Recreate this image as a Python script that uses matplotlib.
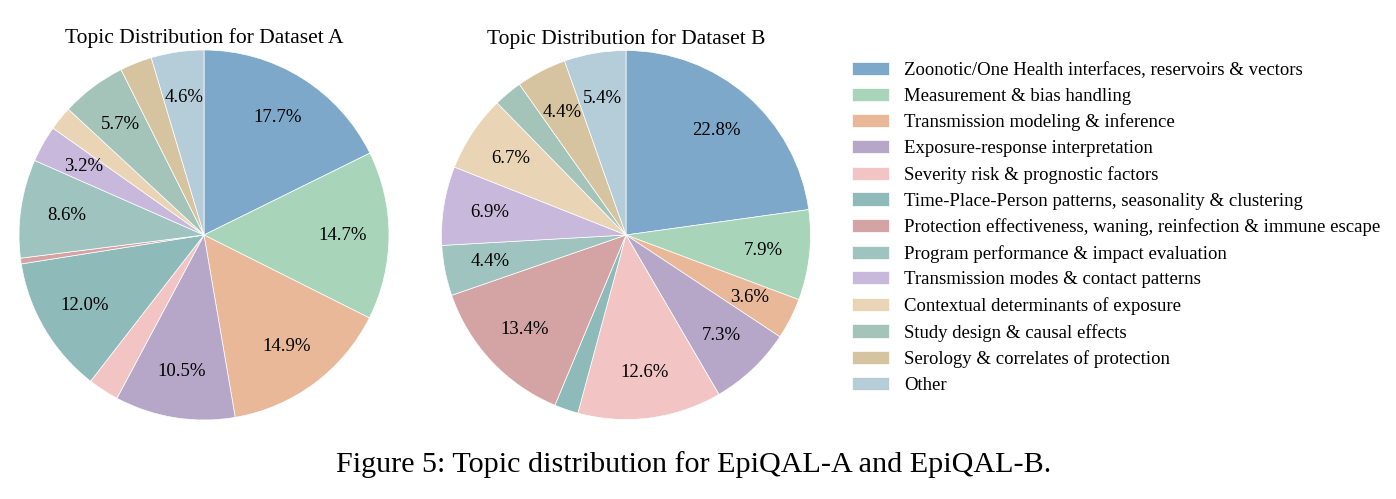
import matplotlib
matplotlib.use("Agg")
import matplotlib.pyplot as plt

plt.rcParams['font.family'] = ['Liberation Serif', 'DejaVu Serif']

topics = [
    "Zoonotic/One Health interfaces, reservoirs & vectors",
    "Measurement & bias handling",
    "Transmission modeling & inference",
    "Exposure-response interpretation",
    "Severity risk & prognostic factors",
    "Time-Place-Person patterns, seasonality & clustering",
    "Protection effectiveness, waning, reinfection & immune escape",
    "Program performance & impact evaluation",
    "Transmission modes & contact patterns",
    "Contextual determinants of exposure",
    "Study design & causal effects",
    "Serology & correlates of protection",
    "Other",
]
share_a = [17.7, 14.7, 14.9, 10.5, 2.7, 12.0, 0.5, 8.6, 3.2, 2.1, 5.7, 2.8, 4.6]
share_b = [22.8, 7.9, 3.6, 7.3, 12.6, 2.1, 13.4, 4.4, 6.9, 6.7, 2.5, 4.4, 5.4]
colors = ["#7ea8c9", "#a8d5b9", "#e8b899", "#b6a7c9", "#f2c4c4", "#8fbaba",
          "#d4a4a5", "#9fc4bf", "#c8b8dc", "#e9d5b6", "#a4c4b9", "#d6c4a0", "#b4cdd8"]

W, H = 1396, 499
fig = plt.figure(figsize=(W / 100, H / 100), dpi=100)


def pct(p):
    return f"{p:.1f}%" if p >= 3 else ""


def draw(cx, cy, r, vals, title):
    ax = fig.add_axes([(cx - r) / W, 1 - (cy + r) / H, 2 * r / W, 2 * r / H])
    wedges, _, _ = ax.pie(vals, colors=colors, startangle=90, counterclock=False,
                          autopct=pct, pctdistance=0.75,
                          wedgeprops=dict(edgecolor="white", linewidth=0.5),
                          textprops=dict(fontsize=13.5))
    ax.set_xlim(-1, 1)
    ax.set_ylim(-1, 1)
    ax.set_aspect("equal")
    ax.set_title(title, fontsize=15.5, pad=5)
    return wedges


wedges = draw(204, 235, 185, share_a, "Topic Distribution for Dataset A")
draw(626, 235, 184.5, share_b, "Topic Distribution for Dataset B")

fig.legend(wedges, topics, loc="upper left", bbox_to_anchor=(852 / W, 1 - 62 / H),
           frameon=False, fontsize=13.5, borderpad=0, borderaxespad=0,
           handlelength=1.97, handleheight=0.7, handletextpad=0.8, labelspacing=0.462)

fig.text(693.5 / W, 1 - 465 / H, "Figure 5: Topic distribution for EpiQAL-A and EpiQAL-B.",
         ha="center", va="center", fontsize=21.7)

fig.savefig("out.png", dpi=100)
